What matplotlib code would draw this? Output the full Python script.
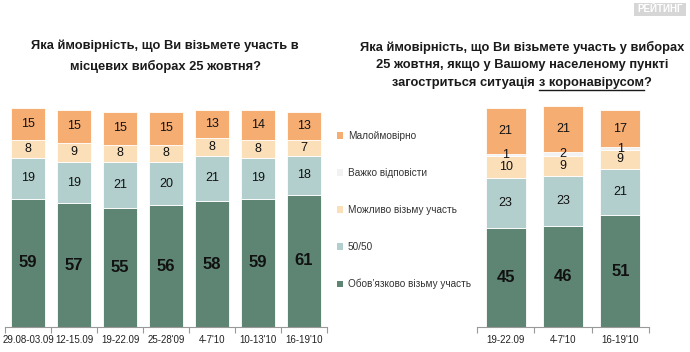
import matplotlib
matplotlib.use("Agg")
import matplotlib.pyplot as plt
from matplotlib.patches import Patch, Rectangle
import numpy as np

plt.rcParams['font.family'] = ['Liberation Sans', 'DejaVu Sans']

# ---- data ----
left_cats = ["29.08-03.09", "12-15.09", "19-22.09", "25-28'09", "4-7'10", "10-13'10", "16-19'10"]
left_must = [59, 57, 55, 56, 58, 59, 61]
left_5050 = [19, 19, 21, 20, 21, 19, 18]
left_maybe = [8, 9, 8, 8, 8, 8, 7]
left_unlikely = [15, 15, 15, 15, 13, 14, 13]

right_cats = ["19-22.09", "4-7'10", "16-19'10"]
right_must = [45, 46, 51]
right_5050 = [23, 23, 21]
right_maybe = [10, 9, 9]
right_hard = [1, 2, 1]
right_unlikely = [21, 21, 17]

series_names = ["Обов’язково візьму участь", "50/50", "Можливо візьму участь",
                "Важко відповісти", "Малоймовірно"]
colors = ["#5e8473", "#b2cfcd", "#fbdfb8", "#f2f2f2", "#f5ad72"]

W, H = 690, 352
fig = plt.figure(figsize=(W / 100, H / 100), dpi=100)
fig.patch.set_facecolor("white")


def px_axes(x0, x1, ybot, ytop):
    return fig.add_axes([x0 / W, 1 - ybot / H, (x1 - x0) / W, (ybot - ytop) / H])


def draw_stack(ax, cats, layers, width, big_fs, small_fs):
    x = np.arange(len(cats))
    bottom = np.zeros(len(cats))
    for i, vals in enumerate(layers):
        if vals is None:
            continue
        vals = np.array(vals, dtype=float)
        ax.bar(x, vals, width=width, bottom=bottom, color=colors[i], edgecolor="white",
               linewidth=0.6, clip_on=False)
        for xi, b, v in zip(x, bottom, vals):
            if i == 0:
                ax.text(xi, b + v / 2, f"{int(v)}", ha="center", va="center",
                        fontsize=big_fs, fontweight="bold", color="#111111")
            else:
                ax.text(xi, b + v / 2, f"{int(v)}", ha="center", va="center",
                        fontsize=small_fs, color="#111111")
        bottom += vals
    ax.set_xlim(-0.5, len(cats) - 0.5)
    ax.set_ylim(0, 100)
    for s in ["top", "right", "left"]:
        ax.spines[s].set_visible(False)
    ax.spines["bottom"].set_color("#999999")
    ax.spines["bottom"].set_linewidth(0.8)
    ax.set_yticks([])
    ax.set_xticks(np.arange(len(cats) + 1) - 0.5, minor=False)
    ax.set_xticklabels([])
    ax.tick_params(axis="x", which="major", length=4, color="#999999", width=0.8)
    ax.set_xticks(x, minor=True)
    ax.set_xticklabels(cats, minor=True, fontsize=7, color="#222222")
    ax.tick_params(axis="x", which="minor", length=0, pad=6)
    ax.set_facecolor("none")


axL = px_axes(5, 327, 327, 110)
draw_stack(axL, left_cats, [left_must, left_5050, left_maybe, None, left_unlikely],
           0.72, 12, 9)

axR = px_axes(477, 649, 327, 108)
draw_stack(axR, right_cats, [right_must, right_5050, right_maybe, right_hard, right_unlikely],
           0.7, 12, 9)

# legend
handles = [Patch(facecolor=colors[i], edgecolor="none") for i in [4, 3, 2, 1, 0]]
labels = [series_names[i] for i in [4, 3, 2, 1, 0]]
leg = fig.legend(handles, labels, loc="upper left", bbox_to_anchor=(337 / W, 1 - 131 / H),
                 frameon=False, fontsize=7.2, handlelength=0.6, handleheight=0.6,
                 handletextpad=0.5, labelspacing=2.7, borderaxespad=0, borderpad=0)
for t in leg.get_texts():
    t.set_color("#333333")

# titles
TFS = 9.3
title_kw = dict(fontsize=TFS, fontweight="bold", color="#1a1a1a", ha="center", va="center")
fig.text(165 / W, 1 - 46 / H, "Яка ймовірність, що Ви візьмете участь в", **title_kw)
fig.text(165 / W, 1 - 66 / H, "місцевих виборах 25 жовтня?", **title_kw)
fig.text(522 / W, 1 - 47 / H, "Яка ймовірність, що Ви візьмете участь у виборах", **title_kw)
fig.text(522 / W, 1 - 65 / H, "25 жовтня, якщо у Вашому населеному пункті", **title_kw)

# third line with underlined part
fig.canvas.draw()
r = fig.canvas.get_renderer()
parts = ["загостриться ситуація ", "з коронавірусом", "?"]
tmp = [fig.text(0, 0, p, fontsize=TFS, fontweight="bold") for p in parts]
widths = [t.get_window_extent(r).width for t in tmp]
for t in tmp:
    t.remove()
total = sum(widths)
xstart = 522 - total / 2
y3 = 83
xs = xstart
for p, w in zip(parts, widths):
    fig.text(xs / W, 1 - y3 / H, p, fontsize=TFS, fontweight="bold", color="#1a1a1a",
             ha="left", va="center")
    if p == "з коронавірусом":
        fig.add_artist(plt.Line2D([xs / W, (xs + w) / W], [1 - (y3 + 7) / H] * 2,
                                  color="#1a1a1a", linewidth=1.0))
    xs += w

# watermark
fig.patches.append(Rectangle((634 / W, 1 - 16 / H), 52 / W, 13 / H, transform=fig.transFigure,
                             facecolor="#d6d6d6", edgecolor="none"))
fig.text(660 / W, 1 - 9.5 / H, "РЕЙТИНГ", fontsize=7, fontweight="bold", color="white",
         ha="center", va="center")

fig.savefig("out.png", dpi=100, facecolor="white")
